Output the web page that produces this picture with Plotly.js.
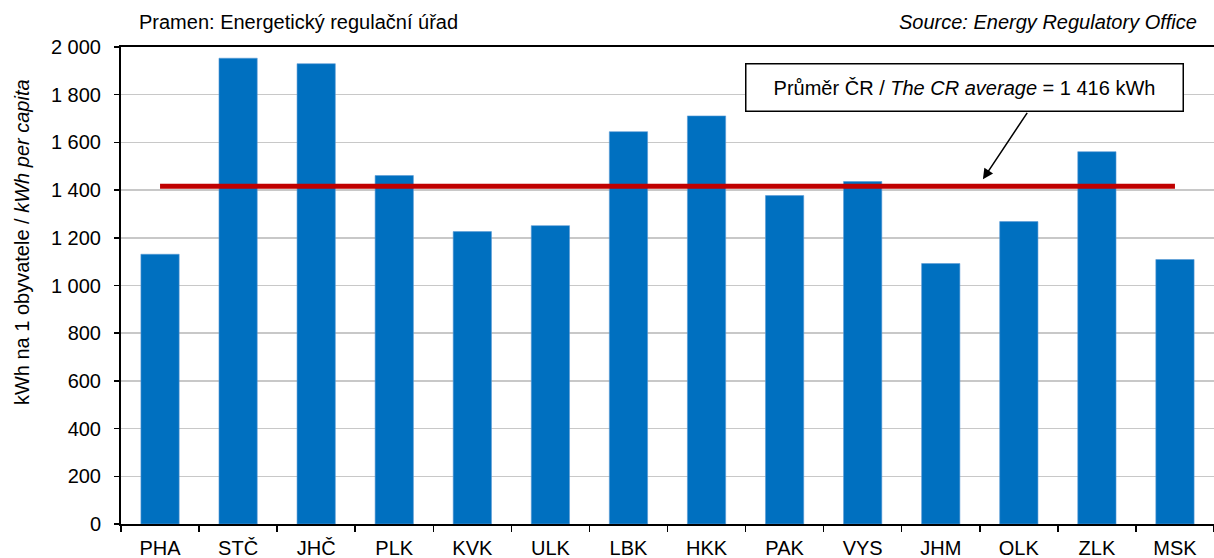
<!DOCTYPE html>
<html><head><meta charset="utf-8">
<script src="https://cdn.plot.ly/plotly-3.0.1.min.js"></script>
<style>html,body{margin:0;padding:0;background:#fff;}#chart{width:1214px;height:558px;}</style>
</head><body><div id="chart"></div>
<script>
const regions = ["PHA","STČ","JHČ","PLK","KVK","ULK","LBK","HKK","PAK","VYS","JHM","OLK","ZLK","MSK"];
const consumption = [1131,1953,1930,1461,1226,1251,1645,1711,1377,1436,1092,1268,1561,1109];
const average = 1416;
const yTickVals = [0,200,400,600,800,1000,1200,1400,1600,1800,2000];
const yTickText = ["0","200","400","600","800","1 000","1 200","1 400","1 600","1 800","2 000"];

const font = "Liberation Sans, Arial, sans-serif";
const traces = [
  {type:"bar", x:regions, y:consumption, width:0.49,
   marker:{color:"#0070C0", line:{color:"#5B9BD5", width:0.6}}, hoverinfo:"x+y"},
  {type:"scatter", mode:"lines", x:[regions[0], regions[regions.length-1]], y:[average, average],
   line:{color:"#C00000", width:5}, hoverinfo:"skip"}
];
const layout = {
  width:1214, height:558,
  margin:{l:121, r:0, t:47, b:34},
  paper_bgcolor:"#fff", plot_bgcolor:"#fff",
  showlegend:false,
  font:{family:font, size:20, color:"#000"},
  xaxis:{type:"category", showline:true, mirror:true, linecolor:"#000", linewidth:2,
    ticks:"outside", tickson:"boundaries", ticklen:6, tickwidth:1.5, tickcolor:"#000",
    showgrid:false, zeroline:false, automargin:false, fixedrange:true, ticklabelstandoff:5,
    tickfont:{family:font, size:20, color:"#000"}},
  yaxis:{range:[0,2000], tickvals:yTickVals, ticktext:yTickText, showline:true, linecolor:"#000", linewidth:2,
    ticks:"outside", ticklen:5, tickwidth:1.5, tickcolor:"#000", ticklabelstandoff:9,
    showgrid:true, gridcolor:"#c8c8c8", gridwidth:1.5, zeroline:false, automargin:false,
    tickfont:{family:font, size:20, color:"#000"}},
  annotations:[
    {xref:"paper", yref:"paper", x:-0.091, y:0.59, xanchor:"center", yanchor:"middle", textangle:-90,
     text:"kWh na 1 obyvatele / <i>kWh per capita</i>", showarrow:false, font:{family:font, size:20, color:"#000"}},
    {xref:"paper", yref:"paper", x:0.0146, y:1, xanchor:"left", yanchor:"bottom", yshift:12,
     text:"Pramen: Energetický regulační úřad", showarrow:false, font:{family:font, size:20, color:"#000"}},
    {xref:"paper", yref:"paper", x:0.9865, y:1, xanchor:"right", yanchor:"bottom", yshift:12,
     text:"<i>Source: Energy Regulatory Office</i>", showarrow:false, font:{family:font, size:20, color:"#000"}},
    {xref:"x", yref:"y", x:10.31, y:1829, xanchor:"center", yanchor:"middle",
     text:"Průměr ČR / <i>The CR average</i> = 1 416 kWh", showarrow:false,
     width:416, height:26, align:"center", valign:"middle",
     bordercolor:"#000", borderwidth:1.5, borderpad:10, bgcolor:"#fff",
     font:{family:font, size:20, color:"#000"}},
    {xref:"x", yref:"y", x:10.54, y:1445, axref:"x", ayref:"y", ax:11.12, ay:1730,
     text:"", showarrow:true, arrowhead:2, arrowsize:1.4, arrowwidth:1.5, arrowcolor:"#000"}
  ]
};
Plotly.newPlot("chart", traces, layout, {displayModeBar:false, staticPlot:true});
</script></body></html>
